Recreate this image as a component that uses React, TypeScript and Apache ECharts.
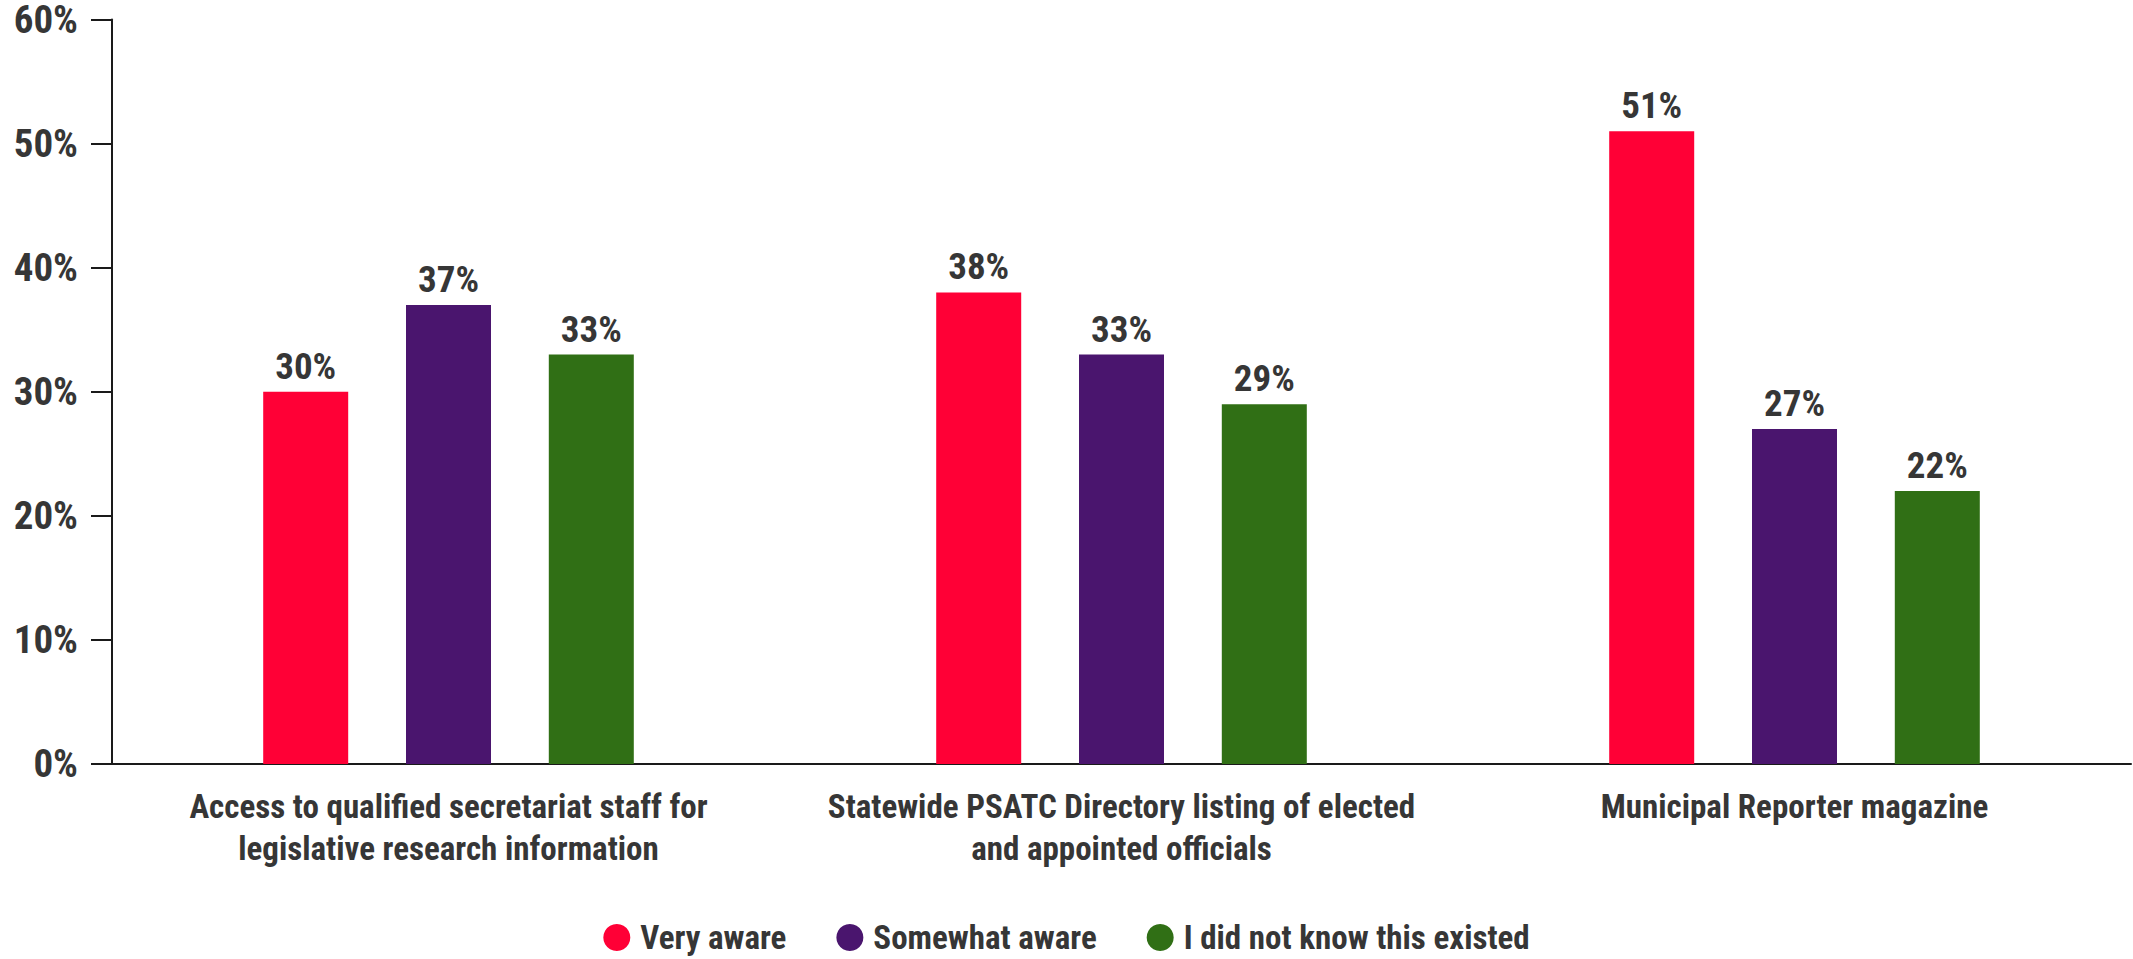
import React, { useEffect, useRef } from "react";
import * as echarts from "echarts";

const categories = [
  "Access to qualified secretariat staff for\nlegislative research information",
  "Statewide PSATC Directory listing of elected\nand appointed officials",
  "Municipal Reporter magazine",
];
const seriesNames = ["Very aware", "Somewhat aware", "I did not know this existed"];
const veryAware = [30, 38, 51];
const somewhatAware = [37, 33, 27];
const didNotKnow = [33, 29, 22];
const colors = ["#FF0036", "#4A156E", "#306F15"];
const yTicks = { min: 0, max: 60, interval: 10 };

const FONT = "'Roboto Condensed', 'Liberation Sans Narrow', 'DejaVu Sans Condensed', Roboto, sans-serif";
const TEXT = "#363636";

export default function App() {
  const ref = useRef<HTMLDivElement>(null);
  useEffect(() => {
    document.body.style.margin = "0";
    const chart = echarts.init(ref.current!, undefined, { renderer: "svg" });
    const data = [veryAware, somewhatAware, didNotKnow];
    chart.setOption({
      animation: false,
      textStyle: { fontFamily: FONT },
      grid: { left: 112, right: 2, top: 19, bottom: 195, containLabel: false },
      legend: {
        data: seriesNames,
        left: "center",
        top: 916,
        icon: "circle",
        itemWidth: 27,
        itemHeight: 27,
        itemGap: 50,
        textStyle: { fontFamily: FONT, fontSize: 33, fontWeight: "bold", color: TEXT, padding: [0, 0, 0, 5] },
      },
      xAxis: {
        type: "category",
        data: categories,
        axisLine: { lineStyle: { color: "#1a1a1a", width: 2 } },
        axisTick: { alignWithLabel: true, length: 24, lineStyle: { color: "#1a1a1a", width: 2 } },
        axisLabel: {
          interval: 0,
          margin: 21,
          fontFamily: FONT,
          fontSize: 33,
          fontWeight: "bold",
          color: TEXT,
          lineHeight: 42,
        },
      },
      yAxis: {
        type: "value",
        min: yTicks.min,
        max: yTicks.max,
        interval: yTicks.interval,
        splitLine: { show: false },
        axisLine: { show: true, lineStyle: { color: "#1a1a1a", width: 2 } },
        axisTick: { show: true, length: 21, lineStyle: { color: "#1a1a1a", width: 2 } },
        axisLabel: {
          formatter: "{value}%",
          margin: 34,
          fontFamily: FONT,
          fontSize: 39,
          lineHeight: 36,
          fontWeight: "bold",
          color: TEXT,
        },
      },
      series: seriesNames.map((name, i) => ({
        name,
        type: "bar",
        data: data[i],
        barWidth: 85,
        barGap: "68%",
        itemStyle: { color: colors[i] },
        label: {
          show: true,
          position: "top",
          distance: 7,
          formatter: "{c}%",
          fontFamily: FONT,
          fontSize: 37,
          fontWeight: "bold",
          color: TEXT,
        },
      })),
    });
    return () => chart.dispose();
  }, []);
  return <div ref={ref} style={{ width: 2133, height: 959 }} />;
}
